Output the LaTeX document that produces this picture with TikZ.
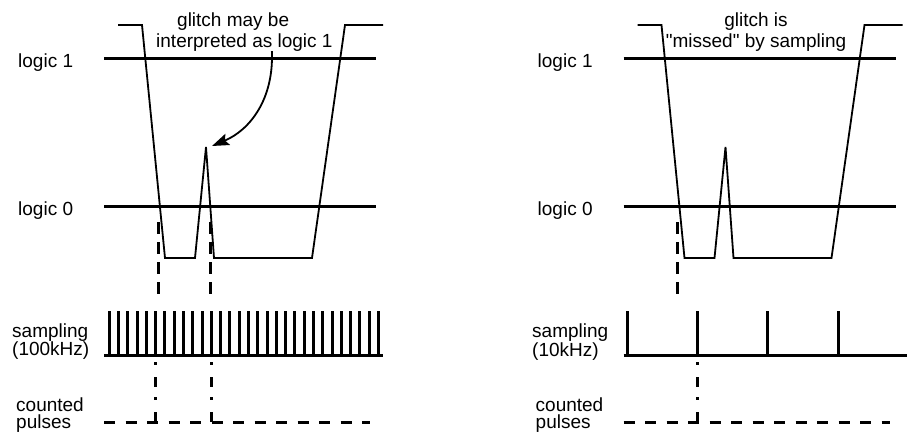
\documentclass[tikz,border=0pt]{standalone}
\usepackage{fontspec}
\setmainfont{Liberation Sans}
\usetikzlibrary{arrows.meta}

\begin{document}
\begin{tikzpicture}[x=1pt,y=-1pt,font=\fontsize{19}{20.5}\selectfont,
  logicline/.style={line width=3pt},
  signal/.style={line width=1.8pt,line join=miter},
  samptick/.style={line width=3pt},
  cutline/.style={line width=3pt,dash pattern=on 12pt off 8pt},
  strobe/.style={line width=3pt,dash pattern=on 2.5pt off 12.5pt on 10pt off 10pt},
  pulseline/.style={line width=3pt,dash pattern=on 11pt off 10.5pt},
  lbl/.style={anchor=base west,inner sep=0pt,align=left}]
  \useasboundingbox (0,0) rectangle (907,440);
  \foreach \o/\s/\e in {0/a/383,519.5/b/387.5}{
    \draw[logicline] (104+\o,58) -- (376+\o,58);
    \draw[logicline] (104+\o,206) -- (376+\o,206);
    \node[lbl] (one\s) at (18+\o,67.7) {logic 1};
    \node[lbl] (zero\s) at (18+\o,215) {logic 0};
    \draw[signal] (118+\o,25) -- (142+\o,25) -- (165+\o,258) -- (195+\o,258)
      -- (206+\o,147) coordinate (peak\s) -- (214+\o,258) -- (312+\o,258)
      -- (345+\o,25) -- (383+\o,25);
    \draw[cutline] (158.2+\o,222) -- (158.2+\o,294);
    \draw[logicline] (104+\o,355) -- (\e+\o,355);
    \draw[pulseline] (104+\o,422) -- (370+\o,422);
    \node[lbl] (count\s) at (16+\o,428.5) {counted\\[-3.5pt]pulses};
  }
  \draw[cutline] (210.3,222) -- (210.3,294);
  \foreach \k in {0,...,29}{\draw[samptick] (109.3+9.28*\k,311) -- ++(0,44);}
  \foreach \k in {0,...,3}{\draw[samptick] (627.3+70.3*\k,311) -- ++(0,44);}
  \foreach \x in {155.7,211.4,697.7}{\draw[strobe] (\x,362) -- (\x,422);}
  \node[lbl] (sampa) at (12,355.5) {sampling\\[-2pt](100kHz)};
  \node[lbl] (sampb) at (532,356) {sampling\\[-2pt](10kHz)};
  \node[lbl] (glitcha) at (156,47) {\hspace*{21pt}glitch may be\\interpreted as logic 1};
  \node[anchor=base,inner sep=0pt,align=center] (glitchb) at (756,47)
    {glitch is\\\textquotedbl missed\textquotedbl{} by sampling};
  \draw[signal,-{Stealth[length=17pt,width=12pt,inset=3pt]}] ([xshift=27.5pt]glitcha.south)
    .. controls +(2,48) and (250,130) .. ([xshift=6pt,yshift=1pt]peaka);
\end{tikzpicture}
\end{document}
